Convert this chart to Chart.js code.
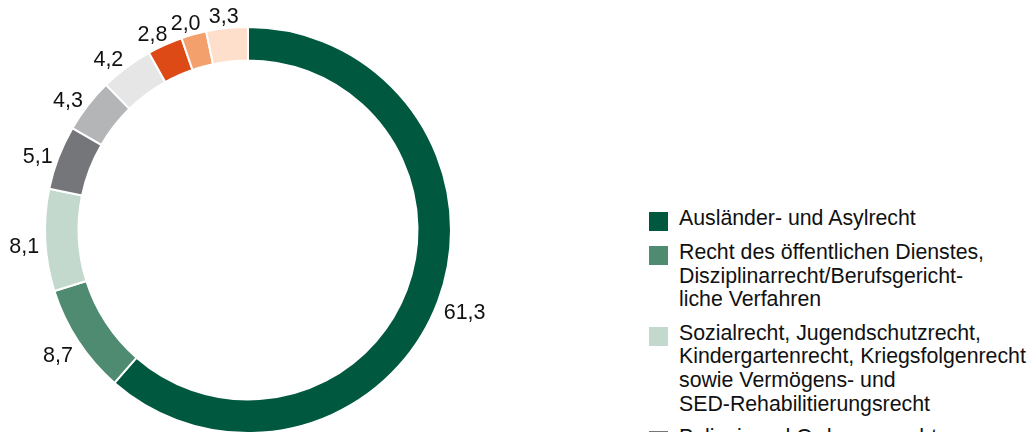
<!DOCTYPE html>
<html>
<head>
<meta charset="utf-8">
<script src="https://cdn.jsdelivr.net/npm/chart.js@4.4.0/dist/chart.umd.min.js"></script>
<style>
  html, body { margin: 0; padding: 0; background: #fff; overflow: hidden; }
  #wrap { position: relative; width: 1033px; height: 432px; overflow: hidden; font-family: "Liberation Sans", Arial, sans-serif; }
  #chart { position: absolute; left: 0; top: 0; }
  #labels { position: absolute; left: 0; top: 0; }
  .lbl { position: absolute; font-size: 21.5px; line-height: 22px; color: #111; white-space: nowrap; }
  #legend { position: absolute; left: 649px; top: 207px; margin: 0; padding: 0; list-style: none; }
  #legend li { display: flex; align-items: flex-start; margin-bottom: 10px; font-size: 21.3px; line-height: 23.6px; color: #111; }
  #legend .sw { width: 19px; height: 19px; margin-top: 5px; margin-right: 11px; flex: none; }
  #legend .tx { white-space: pre-line; }
</style>
</head>
<body>
<div id="wrap">
  <canvas id="chart" width="496" height="460"></canvas>
  <div id="labels"></div>
  <ul id="legend"></ul>
</div>
<script>
const categories = [
  "Ausländer- und Asylrecht",
  "Recht des öffentlichen Dienstes,\nDisziplinarrecht/Berufsgericht-\nliche Verfahren",
  "Sozialrecht, Jugendschutzrecht,\nKindergartenrecht, Kriegsfolgenrecht\nsowie Vermögens- und\nSED-Rehabilitierungsrecht",
  "Polizei- und Ordnungsrecht",
  "Baurecht",
  "Abgabenrecht",
  "Hochschul- und Schulrecht",
  "Wirtschafts- und Umweltrecht",
  "Sonstiges"
];
const values = [61.3, 8.7, 8.1, 5.1, 4.3, 4.2, 2.8, 2.0, 3.3];
const colors = ["#00583f", "#4f8b71", "#c3d9cd", "#75767a", "#b4b5b7", "#e6e6e6", "#de4a16", "#f4a06c", "#fddfcc"];

function fmt(v) {
  return v.toFixed(1).replace('.', ',');
}

// value labels outside the ring, placed from the arc geometry
const outerLabels = {
  id: 'outerLabels',
  afterDraw(chart) {
    const box = document.getElementById('labels');
    box.innerHTML = '';
    const meta = chart.getDatasetMeta(0);
    meta.data.forEach((arc, i) => {
      const p = arc.getProps(['x', 'y', 'startAngle', 'endAngle', 'outerRadius'], true);
      const mid = (p.startAngle + p.endAngle) / 2;
      const r = p.outerRadius + 6;
      const cos = Math.cos(mid), sin = Math.sin(mid);
      const el = document.createElement('div');
      el.className = 'lbl';
      el.textContent = fmt(values[i]);
      box.appendChild(el);
      const w = el.offsetWidth, h = el.offsetHeight;
      const kx = Math.max(-1, Math.min(1, cos * 1.6));
      const cx = p.x + r * cos + kx * w / 2;
      const cy = p.y + r * sin + sin * h / 2 + 5;
      el.style.left = (cx - w / 2) + 'px';
      el.style.top = (cy - h / 2) + 'px';
    });
  }
};

const ctx = document.getElementById('chart').getContext('2d');
const chart = new Chart(ctx, {
  type: 'doughnut',
  data: {
    labels: categories,
    datasets: [{
      data: values,
      backgroundColor: colors,
      borderColor: '#ffffff',
      borderWidth: 2
    }]
  },
  options: {
    responsive: false,
    animation: false,
    devicePixelRatio: 1,
    radius: 203,
    cutout: '83.5%',
    layout: { padding: 0 },
    plugins: {
      legend: { display: false },
      tooltip: { enabled: false }
    }
  },
  plugins: [outerLabels]
});

// legend
const legend = document.getElementById('legend');
categories.forEach((name, i) => {
  const li = document.createElement('li');
  const sw = document.createElement('span');
  sw.className = 'sw';
  sw.style.background = colors[i];
  const tx = document.createElement('span');
  tx.className = 'tx';
  tx.textContent = name;
  li.appendChild(sw);
  li.appendChild(tx);
  legend.appendChild(li);
});
</script>
</body>
</html>
